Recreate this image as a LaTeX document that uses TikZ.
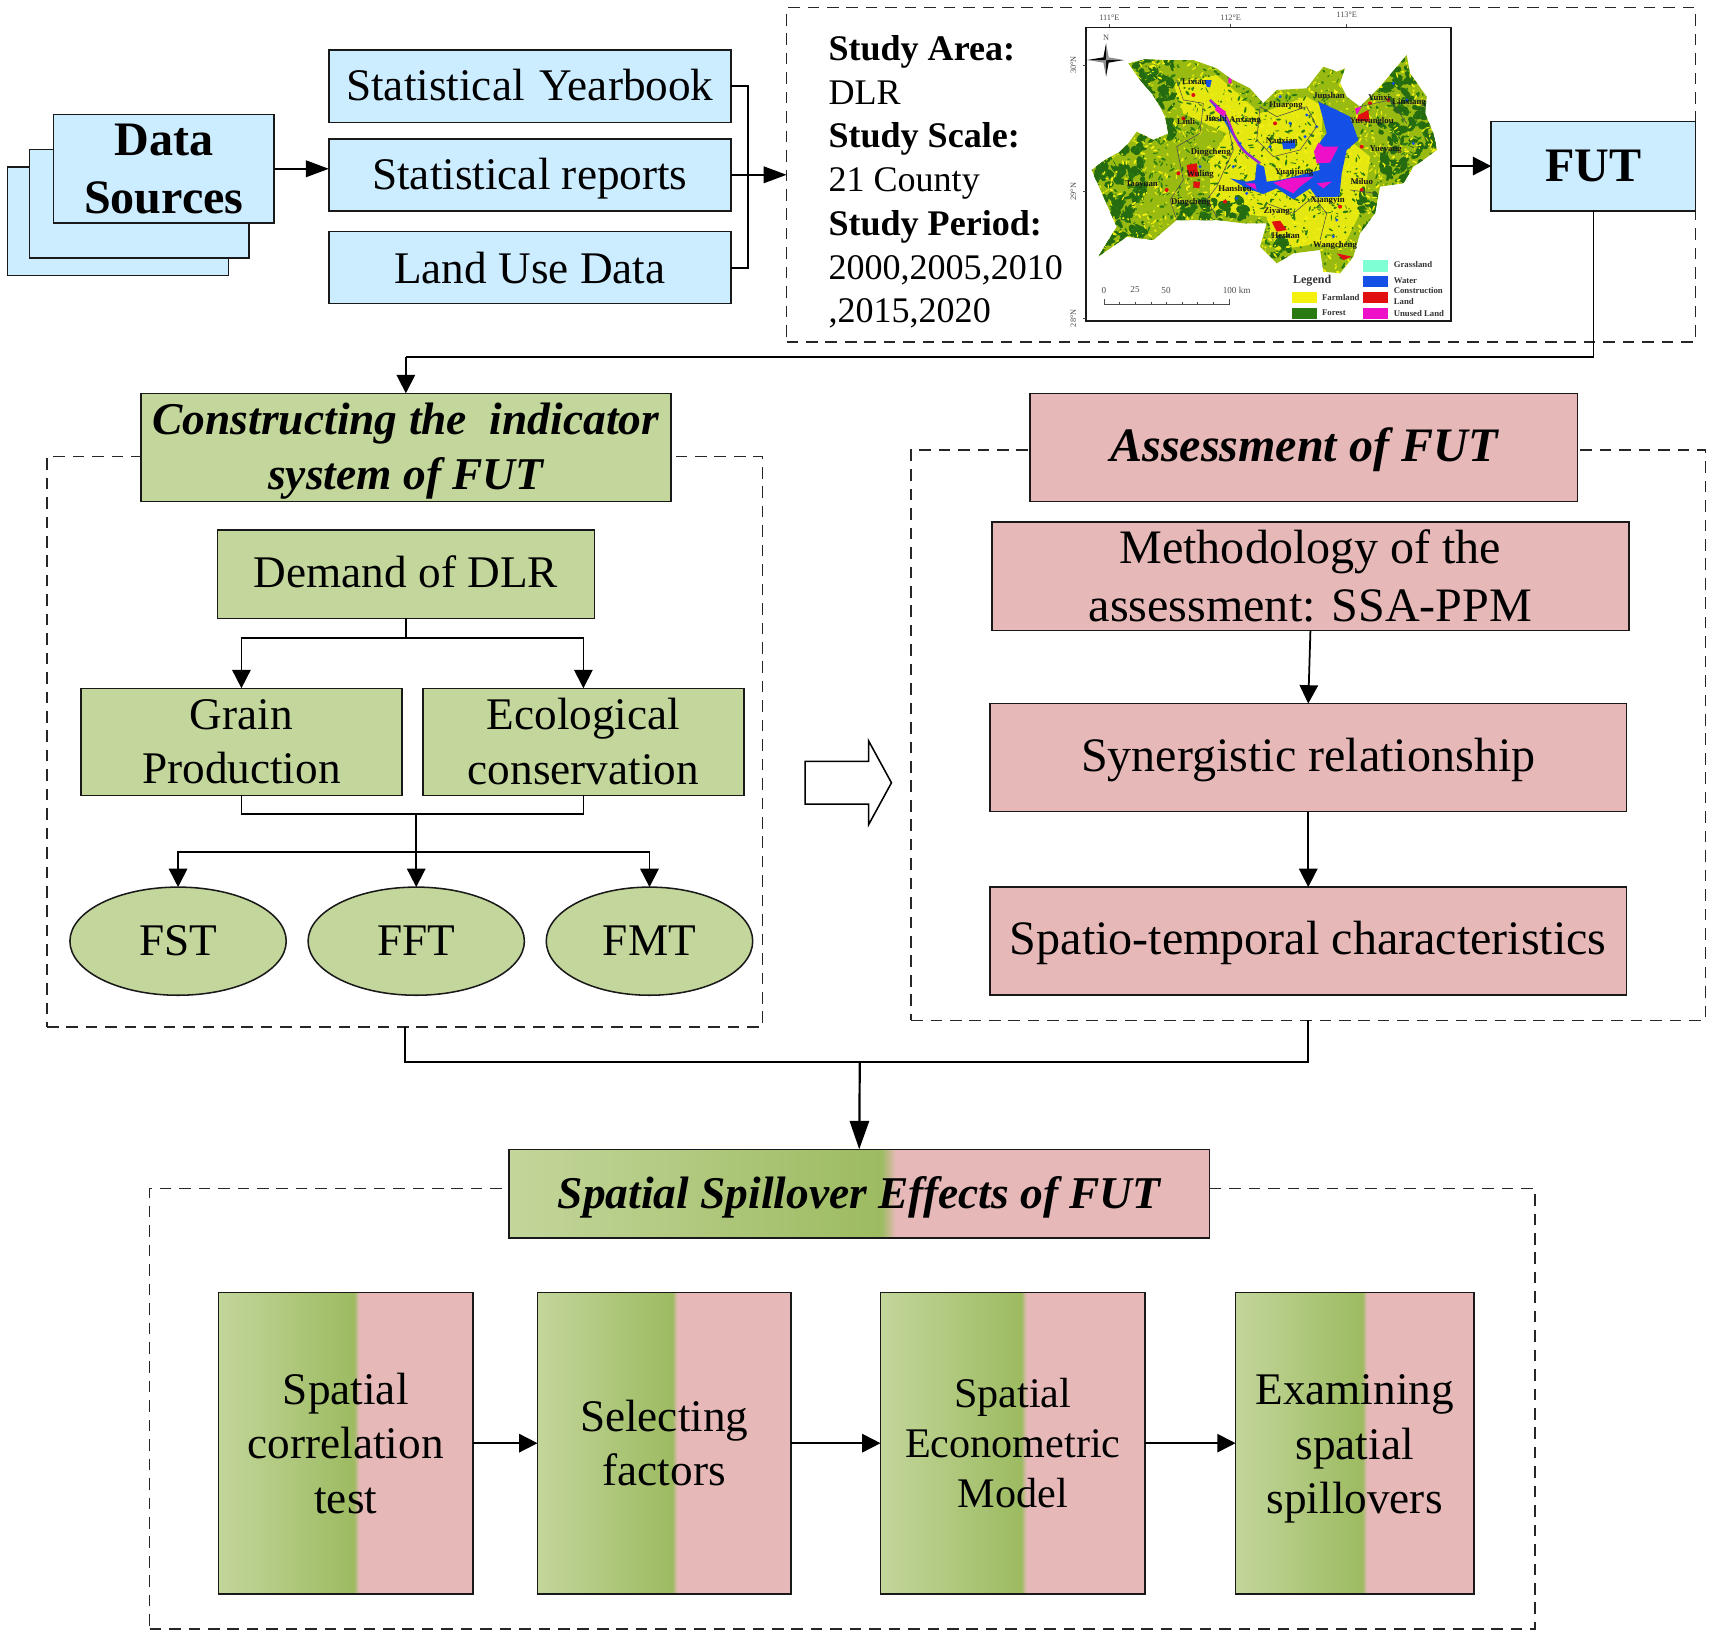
\documentclass[tikz,border=0pt]{standalone}
\usepackage{fontspec}
\setmainfont{Liberation Serif}
\usetikzlibrary{arrows.meta,shapes.geometric,calc}
\definecolor{bluefill}{HTML}{CCECFF}
\definecolor{gl}{HTML}{C3D69B}
\definecolor{gd}{HTML}{9DBB61}
\definecolor{pk}{HTML}{E6B9B8}
\definecolor{myel}{HTML}{F4F010}
\definecolor{mgrn}{HTML}{2A7A12}
\definecolor{mblu}{HTML}{1450E6}
\definecolor{mmag}{HTML}{EE10C8}
\definecolor{mred}{HTML}{E01010}
\definecolor{mgra}{HTML}{7FFFD4}
\pgfdeclarehorizontalshading{hsplit}{100bp}{color(0bp)=(gl);color(25bp)=(gl);color(51.6bp)=(gd);color(52.6bp)=(pk);color(100bp)=(pk)}
\newcommand\tfa{\fontsize{20.7}{25}\selectfont}
\newcommand\tfp{\fontsize{22}{26.5}\selectfont}
\newcommand\tfb{\fontsize{22}{26.5}\selectfont\bfseries}
\newcommand\tfc{\fontsize{20.8}{25}\selectfont\bfseries\itshape}
\newcommand\tfq{\fontsize{22}{26}\selectfont\bfseries\itshape}
\newcommand\tfd{\fontsize{16.5}{20}\selectfont}
\newcommand\tfe{\fontsize{4}{5}\selectfont\bfseries}
\newcommand\tfs{\fontsize{19.3}{23}\selectfont}
% a strut on the first line lowers a centred text by #1
\newcommand\dnby[1]{\rule{0pt}{\dimexpr 15pt+2\dimexpr #1\relax\relax}}
\newcommand\rbox[7]{\node[#1,minimum width={(#5-#3)*0.5pt},minimum height={(#6-#4)*0.5pt}] (#2) at ({(#3+#5)/2},{(#4+#6)/2}) {#7};}
\tikzset{
  base/.style={draw=black!90,line width=0.7pt,inner sep=0pt,outer sep=0pt,align=center,font=\tfa},
  bluebox/.style={base,fill=bluefill},
  grnbox/.style={base,fill=gl},
  pnkbox/.style={base,fill=pk,font=\tfp},
  mixbox/.style={base,shading=hsplit},
  grnell/.style={base,fill=gl,ellipse},
  frame/.style={draw=black!85,line width=0.6pt,dash pattern=on 5.3pt off 3.6pt,inner sep=0pt,outer sep=0pt},
  conn/.style={draw=black,line width=0.8pt},
  arr/.style={conn,-{Stealth[length=8.4pt,width=8.4pt,inset=0pt]}},
  longarr/.style={conn,-{Stealth[length=10.5pt,width=7.6pt,inset=0pt]}},
  bigarr/.style={conn,line width=1pt,-{Stealth[length=13pt,width=8.8pt,inset=0pt]}},
  maplab/.style={font=\tfe,inner sep=0pt,text=black!90},
  legtext/.style={font=\tfe,inner sep=0pt,anchor=west,align=left,text=black!80},
  mapmark/.style={font=\fontsize{3.8}{4}\selectfont,inner sep=0pt,text=black!70},
}
\begin{document}
\begin{tikzpicture}[x=0.5pt,y=-0.5pt]
\useasboundingbox (0,0) rectangle (1568,1499);
% dashed frames
\rbox{frame}{study}{720}{7}{1552}{313}{}
\rbox{frame}{frameL}{43}{418}{698}{940}{}
\rbox{frame}{frameR}{834}{412}{1561}{934}{}
\rbox{frame}{frameB}{137}{1088}{1405}{1491}{}
% data sources stack
\rbox{bluebox}{ds3}{7}{153}{209}{252}{}
\rbox{bluebox}{ds2}{27}{137}{228}{236}{}
\rbox{bluebox,font=\tfb}{ds1}{49}{105}{251}{204}{Data\\Sources}
\rbox{bluebox}{sy}{301}{46}{669}{112}{Statistical\hspace{6.9pt}Yearbook\rule[-1pt]{0pt}{0pt}}
\rbox{bluebox}{sr}{301}{127}{669}{193}{\dnby{1.5pt}Statistical reports}
\rbox{bluebox}{lu}{301}{212}{669}{278}{Land Use Data}
\node[inner sep=0pt,anchor=west,align=left,font=\tfd] (studytext) at (758,166.5) {\textbf{Study Area:}\\DLR\\\textbf{Study Scale:}\\21 County\\\textbf{Study Period:}\\2000,2005,2010\\,2015,2020};
\rbox{bluebox}{fut}{1365}{111}{1552}{193}{\fontsize{22}{26}\selectfont\bfseries FUT}
% map
\rbox{base}{map}{994}{25}{1328}{294}{}
\begin{scope}[shift={(970.3,0)},x=0.15256pt,y=-0.15256pt]
  \def\outline{(95,510) -- (135,480) -- (180,455) -- (205,430) -- (230,395) -- (280,420) -- (325,400) -- (315,350) -- (300,320) -- (275,280) -- (240,240) -- (205,190) -- (255,178) -- (310,180) -- (400,180) -- (470,205) -- (510,235) -- (570,265) -- (610,310) -- (650,270) -- (740,265) -- (790,200) -- (830,215) -- (855,205) -- (840,250) -- (860,290) -- (900,320) -- (960,260) -- (1040,165) -- (1050,220) -- (1100,290) -- (1095,340) -- (1120,400) -- (1130,450) -- (1090,480) -- (1060,500) -- (1030,550) -- (960,560) -- (945,640) -- (900,700) -- (880,770) -- (840,820) -- (790,815) -- (780,750) -- (700,760) -- (650,790) -- (600,740) -- (620,670) -- (550,670) -- (470,660) -- (350,660) -- (280,720) -- (200,710) -- (115,770) -- (170,680) -- (130,590) -- cycle}
  \begin{scope}
    \clip \outline;
    \fill[myel!55!mgrn] (80,150) rectangle (1140,830);
    % yellow farmland zones
    \fill[myel!92!mgrn] (340,250) -- (470,225) -- (600,340) -- (740,290) -- (790,320) -- (780,460) -- (880,430) -- (930,470) -- (910,620) -- (850,740) -- (780,730) -- (650,750) -- (620,650) -- (450,630) -- (450,480) -- (500,400) -- (370,340) -- cycle;
    \pgfmathsetseed{11}
    % forest patches: west, north-west, north-east, south
    \foreach \xa/\xb/\ya/\yb/\cnt in {90/250/440/780/170,230/340/170/420/70,350/560/600/670/40,960/1140/170/540/130,900/960/560/720/25,620/700/700/780/12}{
      \foreach \i in {1,...,\cnt}{
        \pgfmathsetmacro\xx{\xa+rnd*(\xb-\xa)}
        \pgfmathsetmacro\yy{\ya+rnd*(\yb-\ya)}
        \pgfmathsetmacro\ra{6+rnd*16}
        \pgfmathsetmacro\rb{4+rnd*9}
        \pgfmathsetmacro\an{rnd*180}
        \fill[mgrn!88!black,rotate around={\an:(\xx,\yy)}] (\xx,\yy) ellipse [x radius=\ra,y radius=\rb];
      }
    }
    \foreach \i in {1,...,1300}{
      \pgfmathsetmacro\xx{90+rnd*1050}
      \pgfmathsetmacro\yy{170+rnd*650}
      \pgfmathsetmacro\ra{2+rnd*8}
      \pgfmathsetmacro\rb{1+rnd*3}
      \pgfmathsetmacro\an{rnd*180}
      \fill[mgrn,rotate around={\an:(\xx,\yy)}] (\xx,\yy) ellipse [x radius=\ra,y radius=\rb];
    }
    \foreach \i in {1,...,1300}{
      \pgfmathsetmacro\xx{90+rnd*1050}
      \pgfmathsetmacro\yy{170+rnd*650}
      \pgfmathsetmacro\ra{2+rnd*7}
      \pgfmathsetmacro\rb{1+rnd*2.5}
      \pgfmathsetmacro\an{rnd*180}
      \fill[myel,rotate around={\an:(\xx,\yy)}] (\xx,\yy) ellipse [x radius=\ra,y radius=\rb];
    }
    % water bodies
    \fill[mblu] (775,305) -- (830,330) -- (870,350) -- (895,420) -- (860,450) -- (845,520) -- (838,590) -- (770,592) -- (750,565) -- (700,598) -- (650,565) -- (610,582) -- (560,565) -- (510,535) -- (560,545) -- (585,540) -- (590,490) -- (612,500) -- (620,545) -- (660,540) -- (780,510) -- (770,440) -- (800,400) -- (790,360) -- cycle;
    \draw[mblu,line width=1.1pt] (450,300) .. controls (500,350) and (520,420) .. (560,460) -- (600,490);
    \draw[mmag!70!mblu,line width=0.9pt] (450,300) -- (490,335) .. controls (520,380) and (520,430) .. (560,460) -- (600,490);
    \fill[mblu] (665,425) -- (705,420) -- (705,445) -- (670,448) -- cycle;
    \fill[mblu] (435,240) -- (455,240) -- (450,262) -- (440,260) -- cycle;
    \foreach \px/\py in {660/290,740/345,540/430,520/500,480/360,770/380,690/370,630/440,735/410,1060/430,1000/250,1040/300,560/580,530/595,420/500,830/660,820/710}{
      \fill[mblu] (\px,\py) circle[radius=5];
    }
    % unused land
    \fill[mmag] (775,428) -- (790,440) -- (835,440) -- (810,488) -- (770,490) -- (762,455) -- cycle;
    \fill[mmag] (640,548) -- (690,535) -- (760,530) -- (720,560) -- (700,580) -- (660,560) -- cycle;
    \fill[mmag] (770,550) -- (815,545) -- (790,565) -- cycle;
    \fill[mmag] (555,550) -- (585,550) -- (590,570) -- cycle;
    \fill[mmag] (470,318) -- (498,335) -- (490,350) -- (465,330) -- cycle;
    \fill[mmag] (885,325) -- (905,320) -- (890,345) -- cycle;
    \fill[mmag] (505,235) -- (515,232) -- (515,250) -- (505,250) -- cycle;
    % construction land
    \fill[mred] (895,345) -- (925,330) -- (928,365) -- (890,362) -- cycle;
    \fill[mred] (635,665) -- (660,662) -- (680,690) -- (650,695) -- cycle;
    \fill[mred] (380,495) -- (410,490) -- (415,530) -- (385,530) -- cycle;
    \fill[mred] (400,545) -- (420,545) -- (418,565) -- (400,562) -- cycle;
    \fill[mred] (830,760) -- (875,770) -- (850,780) -- cycle;
    \foreach \px/\py in {400/285,370/355,320/570,355/520,495/605,645/370,905/570,840/620,905/440,930/310,985/300}{
      \fill[mred] (\px,\py) circle[radius=6];
    }
    % county lines
    \draw[black!70,line width=0.25pt] (350,240) -- (370,300) -- (430,310) -- (420,400) -- (350,440) -- (370,540) -- (330,600) -- (350,660);
    \draw[black!70,line width=0.25pt] (500,360) -- (520,450) -- (470,560) -- (440,600) -- (470,650);
    \draw[black!70,line width=0.25pt] (600,320) -- (650,350) -- (740,320) -- (770,380) -- (720,450) -- (640,470) -- (590,420) -- (600,320);
    \draw[black!70,line width=0.25pt] (620,610) -- (700,640) -- (760,590) -- (800,640) -- (780,720);
    \draw[black!70,line width=0.25pt] (870,570) -- (950,580);
    \draw[black!70,line width=0.25pt] (900,320) -- (990,300) -- (1040,370);
  \end{scope}
  % county labels
  \foreach \t/\x/\y [count=\n] in {Lixian/403/245,Linli/378/363,Jinshi/467/357,Anxiang/555/362,Dingcheng/452/457,Wuling/420/523,Taoyuan/245/553,Dingcheng/393/607,Hanshou/525/567,Huarong/678/318,Junshan/807/288,Nanxian/665/423,Yuanjiang/702/518,Yunxi/957/292,Linxiang/1047/307,Yueyanglou/935/365,Yueyang/977/450,Miluo/905/545,Xiangyin/803/600,Ziyang/650/633,Heshan/677/708,Wangcheng/825/736}{
    \node[maplab] (ml\n) at (\x,\y) {\t};
  }
  % graticule
  \foreach \t/\x/\yt [count=\n] in {111°E/148/52,112°E/512/52,113°E/860/45}{
    \node[mapmark] (lon\n) at (\x,\yt) {\t};
    \draw[black!70,line width=0.3pt] (\x,72) -- (\x,80);
  }
  \foreach \t/\y [count=\n] in {30°N/195,29°N/575,28°N/955}{
    \node[mapmark,rotate=90] (lat\n) at (40,\y) {\t};
    \draw[black!70,line width=0.3pt] (68,\y) -- (78,\y);
  }
  % compass
  \node[mapmark] (compN) at (138,112) {N};
  \fill[black] (138,180) -- (130,172) -- (138,130) -- cycle;
  \fill[black!45] (138,180) -- (146,172) -- (138,130) -- cycle;
  \fill[black] (138,180) -- (146,188) -- (138,230) -- cycle;
  \fill[black!45] (138,180) -- (130,188) -- (138,230) -- cycle;
  \fill[black] (138,180) -- (130,172) -- (82,180) -- cycle;
  \fill[black!45] (138,180) -- (130,188) -- (82,180) -- cycle;
  \fill[black] (138,180) -- (146,188) -- (192,180) -- cycle;
  \fill[black!45] (138,180) -- (146,172) -- (192,180) -- cycle;
  % scale bar
  \foreach \t/\x [count=\n] in {0/132,25/225,50/318,100 km/530}{
    \node[mapmark,font=\fontsize{4.2}{5}\selectfont] (sc\n) at (\x,870) {\t};
  }
  \draw[black!70,line width=0.3pt] (132,898) -- (132,912) -- (507,912) -- (507,898);
  \foreach \x in {178.9,225.8,272.6,319.5,366.4,413.3,460.1}{
    \draw[black!70,line width=0.3pt] (\x,905) -- (\x,912);
  }
  % legend
  \node[legtext,font=\fontsize{5.5}{6}\selectfont\bfseries] (legT) at (698,843) {Legend};
  \fill[myel] (695,877) rectangle (772,910);
  \fill[mgrn] (695,925) rectangle (772,958);
  \fill[mgra] (908,780) rectangle (985,815);
  \fill[mblu] (908,828) rectangle (985,862);
  \fill[mred] (908,877) rectangle (985,910);
  \fill[mmag] (908,923) rectangle (985,957);
  \node[legtext] (leg1) at (785,893) {Farmland};
  \node[legtext] (leg2) at (785,938) {Forest};
  \node[legtext] (leg3) at (1000,793) {Grassland};
  \node[legtext] (leg4) at (1000,843) {Water};
  \node[legtext] (leg5) at (1000,889) {Construction\\Land};
  \node[legtext] (leg6) at (1000,942) {Unused Land};
\end{scope}
% constructing block
\rbox{grnbox,font=\tfc}{cons}{129}{360}{614}{459}{\dnby{1.5pt}Constructing the\ \ indicator\\system of FUT}
\rbox{grnbox}{demand}{199}{485}{544}{566}{Demand of DLR\rule[-2pt]{0pt}{0pt}}
\rbox{grnbox}{grain}{74}{630}{368}{728}{Grain\\Production}
\rbox{grnbox}{eco}{387}{630}{681}{728}{Ecological\\conservation}
\rbox{grnell}{fst}{64}{812}{262}{911}{FST}
\rbox{grnell}{fft}{282}{812}{480}{911}{FFT}
\rbox{grnell}{fmt}{500}{812}{689}{911}{FMT}
% assessment block
\rbox{pnkbox,font=\tfq}{assess}{943}{360}{1444}{459}{\dnby{1.5pt}Assessment of FUT}
\rbox{pnkbox}{meth}{908}{478}{1491}{577}{Methodology of the\\assessment: SSA-PPM}
\rbox{pnkbox}{syn}{906}{644}{1489}{743}{\dnby{1pt}Synergistic relationship}
\rbox{pnkbox}{spatio}{906}{812}{1489}{911}{\dnby{1pt}Spatio-temporal characteristics}
% hollow arrow
\draw[line width=0.7pt,fill=white] (737,697) -- (795,697) -- (795,678) -- (816,716.5) -- (795,755) -- (795,736) -- (737,736) -- cycle;
% spillover block
\rbox{mixbox,font=\tfc}{spill}{466}{1052}{1107}{1133}{\dnby{1.5pt}Spatial Spillover Effects of FUT}
\rbox{mixbox}{s1}{200}{1183}{433}{1459}{Spatial\\correlation\\test}
\rbox{mixbox}{s2}{492}{1183}{724}{1459}{Selecting\\factors}
\rbox{mixbox,font=\tfs}{s3}{806}{1183}{1048}{1459}{Spatial\\Econometric\\Model}
\rbox{mixbox}{s4}{1131}{1183}{1349}{1459}{\dnby{2pt}Examining\\spatial\\spillovers}
% junctions
\coordinate (jf) at (371.5,327);
\coordinate (jd) at (371.5,584);
\coordinate (jg) at (381,745);
\coordinate (jh) at (381,780);
\coordinate (jb) at (787,972);
% connectors
\draw[longarr] (ds1.east) -- (ds1.east -| sr.west);
\draw[conn] (sy.east) -- ++(16,0) |- (lu.east);
\draw[longarr] (sr.east) -- (study.west);
\draw[arr] (fut.west -| map.east) -- (fut.west);
\draw[conn] (fut.south) |- (jf);
\draw[arr] (jf) -- (cons.north);
\draw[conn] (demand.south) -- (jd);
\draw[arr] (jd) -| (grain.north);
\draw[arr] (jd) -| (eco.north);
\draw[conn] (grain.south) |- (jg) -| (eco.south);
\draw[arr] (jg) -- (fft.north);
\draw[arr] (jh) -| (fst.north);
\draw[arr] (jh) -| (fmt.north);
\draw[arr] (meth.south) -- (syn.north);
\draw[arr] (syn.south) -- (spatio.north);
\draw[conn] (frameL.south) |- (jb) -| (frameR.south);
\draw[bigarr] (jb) -- (spill.north);
\draw[arr] (s1.east) -- (s2.west);
\draw[arr] (s2.east) -- (s3.west);
\draw[arr] (s3.east) -- (s4.west);
\end{tikzpicture}
\end{document}
